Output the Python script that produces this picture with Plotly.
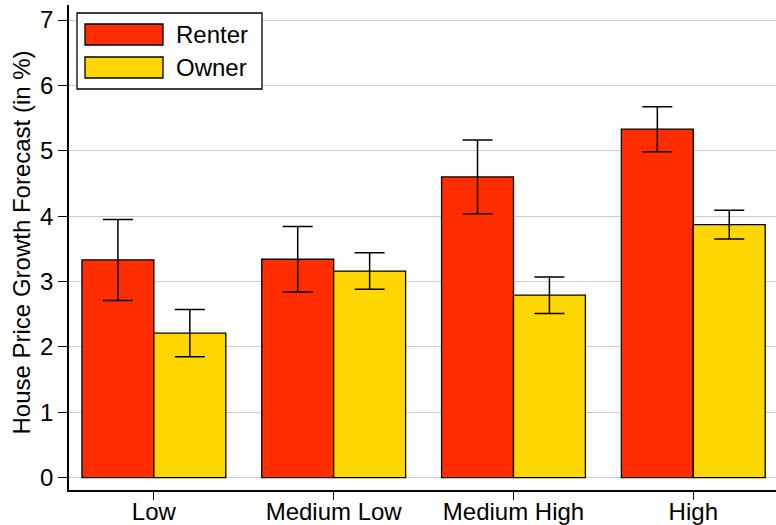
import plotly.graph_objects as go

categories = ["Low", "Medium Low", "Medium High", "High"]
renter = [3.33, 3.34, 4.60, 5.33]
renter_err = [0.62, 0.50, 0.565, 0.345]
owner = [2.21, 3.16, 2.79, 3.87]
owner_err = [0.36, 0.28, 0.28, 0.22]
y_ticks = [0, 1, 2, 3, 4, 5, 6, 7]

RED = "#ff2d00"
GOLD = "#ffd600"
FONT = "Liberation Sans, Arial, sans-serif"

fig = go.Figure()
for name, vals, errs, col in [("Renter", renter, renter_err, RED), ("Owner", owner, owner_err, GOLD)]:
    fig.add_trace(go.Bar(
        x=categories, y=vals, name=name,
        marker=dict(color=col, line=dict(color="black", width=1.3)),
        error_y=dict(type="data", array=errs, visible=True, color="black", thickness=1.5, width=15),
        showlegend=False,
    ))

fig.update_layout(
    width=776, height=525,
    margin=dict(l=69, r=0, t=5, b=35),
    barmode="group", bargap=0.2, bargroupgap=0,
    plot_bgcolor="white", paper_bgcolor="white",
    font=dict(family=FONT, size=24, color="black"),
    xaxis=dict(range=[-0.472, 3.46], showline=True, linecolor="black", linewidth=1.5,
               ticks="outside", ticklen=8, tickwidth=1.3, tickcolor="black",
               showgrid=False, automargin=False, ticklabelstandoff=-9),
    yaxis=dict(range=[-0.19, 7.23], tickvals=y_ticks, showline=True, linecolor="black", linewidth=1.5,
               ticks="outside", ticklen=9, tickwidth=1.3, tickcolor="black",
               showgrid=True, gridcolor="#cccccc", gridwidth=1, zeroline=False, automargin=False),
)

fig.add_annotation(text="House Price Growth Forecast (in %)", textangle=-90,
                   xref="paper", yref="paper", x=0, y=0.5, xanchor="center", yanchor="middle",
                   xshift=-48, yshift=5, showarrow=False, font=dict(size=24))

# manual legend (paper pixel helpers)
W, H = 776, 525
L, R, T, B = 69, 0, 5, 35
pw, ph = W - L - R, H - T - B
def px(x): return (x - L) / pw
def py(y): return 1 - (y - T) / ph

fig.add_shape(type="rect", xref="paper", yref="paper", x0=px(77), x1=px(262), y0=py(89), y1=py(13),
              line=dict(color="black", width=1.3), fillcolor="white", layer="above")
for (y0, y1, col, label) in [(24, 45, RED, "Renter"), (57, 78, GOLD, "Owner")]:
    fig.add_shape(type="rect", xref="paper", yref="paper", x0=px(85), x1=px(163), y0=py(y1), y1=py(y0),
                  line=dict(color="black", width=1.3), fillcolor=col, layer="above")
    fig.add_annotation(text=label, xref="paper", yref="paper", x=px(174), y=py((y0 + y1) / 2),
                       xanchor="left", yanchor="middle", showarrow=False, font=dict(size=24))

fig.write_html("out.html", config={"displayModeBar": False},
               post_script="document.body.style.margin='0';")
